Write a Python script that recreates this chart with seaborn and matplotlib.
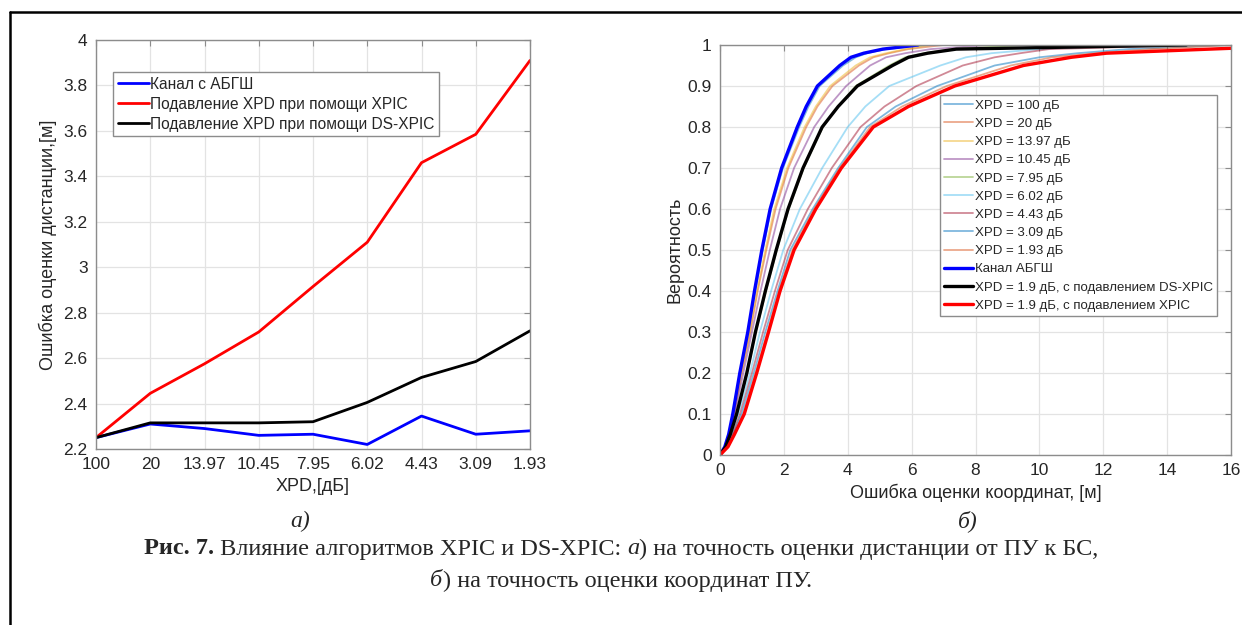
import numpy as np
import pandas as pd
import matplotlib
matplotlib.use("Agg")
import matplotlib.pyplot as plt
import seaborn as sns
from matplotlib.lines import Line2D

# ---- data, panel a ----
xpd_labels = ["100", "20", "13.97", "10.45", "7.95", "6.02", "4.43", "3.09", "1.93"]
awgn_err = [2.25, 2.31, 2.29, 2.26, 2.265, 2.22, 2.345, 2.265, 2.28]
xpic_err = [2.25, 2.445, 2.575, 2.715, 2.915, 3.11, 3.46, 3.585, 3.91]
dsxpic_err = [2.25, 2.315, 2.315, 2.315, 2.32, 2.405, 2.515, 2.585, 2.72]

# ---- data, panel b (CDF: error value at given probability) ----
prob = [0, 0.02, 0.05, 0.1, 0.2, 0.3, 0.4, 0.5, 0.6, 0.7, 0.8, 0.85, 0.9, 0.95, 0.97, 0.98, 0.99, 1.0]
cdf_100 = [0, 0.15, 0.28, 0.41, 0.64, 0.89, 1.1, 1.34, 1.6, 1.97, 2.48, 2.77, 3.12, 3.85, 4.25, 4.6, 5.2, 6.5]
cdf_20 = [0, 0.16, 0.29, 0.44, 0.68, 0.95, 1.18, 1.45, 1.74, 2.14, 2.7, 3.05, 3.52, 4.35, 4.8, 5.3, 5.9, 7.0]
cdf_1397 = [0, 0.16, 0.29, 0.43, 0.67, 0.93, 1.16, 1.42, 1.7, 2.1, 2.65, 3.0, 3.45, 4.25, 4.7, 5.2, 5.8, 6.6]
cdf_1045 = [0, 0.17, 0.31, 0.46, 0.73, 1.0, 1.27, 1.56, 1.88, 2.32, 2.95, 3.4, 3.95, 4.7, 5.2, 5.8, 6.6, 8.5]
cdf_795 = [0, 0.18, 0.32, 0.53, 0.85, 1.12, 1.44, 1.78, 2.15, 2.62, 3.22, 3.7, 4.25, 5.3, 5.8, 6.4, 7.3, 9.5]
cdf_602 = [0, 0.2, 0.36, 0.58, 0.94, 1.25, 1.6, 1.98, 2.5, 3.2, 4.0, 4.55, 5.3, 6.9, 7.7, 8.5, 10.0, 13.0]
cdf_443 = [0, 0.22, 0.39, 0.63, 1.0, 1.35, 1.72, 2.12, 2.75, 3.5, 4.4, 5.15, 6.15, 7.6, 8.6, 9.4, 10.3, 15.0]
cdf_309 = [0, 0.23, 0.41, 0.68, 1.06, 1.42, 1.8, 2.2, 2.9, 3.7, 4.6, 5.5, 6.8, 8.6, 10.0, 11.2, 12.8, 16.0]
cdf_193 = [0, 0.24, 0.44, 0.74, 1.12, 1.49, 1.85, 2.27, 2.95, 3.75, 4.7, 5.7, 7.1, 9.1, 10.4, 11.8, 13.5, 16.0]
cdf_awgn = [0, 0.15, 0.27, 0.40, 0.62, 0.87, 1.08, 1.31, 1.57, 1.93, 2.42, 2.7, 3.05, 3.75, 4.1, 4.5, 5.1, 6.2]
cdf_dsxpic = [0, 0.18, 0.32, 0.52, 0.84, 1.11, 1.42, 1.76, 2.13, 2.6, 3.2, 3.7, 4.3, 5.4, 5.9, 6.5, 7.4, 14.6]
prob_xpic = [0, 0.02, 0.05, 0.1, 0.2, 0.3, 0.4, 0.5, 0.6, 0.7, 0.8, 0.85, 0.9, 0.95, 0.97, 0.98, 0.992]
cdf_xpic = [0, 0.25, 0.45, 0.76, 1.15, 1.52, 1.88, 2.32, 3.0, 3.8, 4.8, 5.9, 7.35, 9.5, 11.0, 12.1, 16.0]

thin_names = ["XPD = 100 дБ", "XPD = 20 дБ", "XPD = 13.97 дБ", "XPD = 10.45 дБ", "XPD = 7.95 дБ",
              "XPD = 6.02 дБ", "XPD = 4.43 дБ", "XPD = 3.09 дБ", "XPD = 1.93 дБ"]
thin_curves = [cdf_100, cdf_20, cdf_1397, cdf_1045, cdf_795, cdf_602, cdf_443, cdf_309, cdf_193]

sns.set_style("white")
plt.rcParams['font.family'] = ['Liberation Sans', 'DejaVu Sans']

matlab_cols = [(0, 0.447, 0.741), (0.85, 0.325, 0.098), (0.929, 0.694, 0.125),
               (0.494, 0.184, 0.556), (0.466, 0.674, 0.188), (0.301, 0.745, 0.933),
               (0.635, 0.078, 0.184)]

fig = plt.figure(figsize=(12.42, 6.25), dpi=100)
ax1 = fig.add_axes([96 / 1242, 1 - 449 / 625, 434 / 1242, 409 / 625])
ax2 = fig.add_axes([720 / 1242, 1 - 455 / 625, 511 / 1242, 410 / 625])

tick_col = "#262626"


def style_axes(ax):
    ax.grid(True, color="#e3e3e3", lw=0.9)
    ax.set_axisbelow(True)
    for s in ax.spines.values():
        s.set_color("#8c8c8c")
        s.set_linewidth(1.0)
    ax.tick_params(direction="in", top=True, right=True, length=4, color="#8c8c8c",
                   labelsize=12.5, labelcolor=tick_col, pad=6)


# panel a
pos = np.arange(len(xpd_labels))
sns.lineplot(x=pos, y=awgn_err, ax=ax1, color=(0, 0, 1), lw=2, label="Канал с АБГШ")
sns.lineplot(x=pos, y=xpic_err, ax=ax1, color=(1, 0, 0), lw=2, label="Подавление XPD при помощи XPIC")
sns.lineplot(x=pos, y=dsxpic_err, ax=ax1, color="black", lw=2, label="Подавление XPD при помощи DS-XPIC")
ax1.set_xlim(0, len(xpd_labels) - 1)
ax1.set_ylim(2.2, 4)
ax1.set_xticks(pos)
ax1.set_xticklabels(xpd_labels)
ax1.set_yticks(np.arange(2.2, 4.01, 0.2))
ax1.set_yticklabels(["%g" % round(v, 1) for v in np.arange(2.2, 4.01, 0.2)])
ax1.set_xlabel("XPD,[дБ]", fontsize=13, color=tick_col, labelpad=4)
ax1.set_ylabel("Ошибка оценки дистанции,[м]", fontsize=13, color=tick_col, labelpad=5)
style_axes(ax1)
leg1 = ax1.legend(loc="upper left", bbox_to_anchor=(0.039, 0.922), fontsize=11.2,
                  frameon=True, fancybox=False, edgecolor="#8c8c8c", framealpha=1,
                  handlelength=2.0, handletextpad=0.1, borderpad=0.3, labelspacing=0.32,
                  borderaxespad=0)
leg1.get_frame().set_linewidth(1.0)

# panel b
for i, (name, xs) in enumerate(zip(thin_names, thin_curves)):
    sns.lineplot(x=xs, y=prob, ax=ax2, color=matlab_cols[i % 7], alpha=0.5, lw=1.3,
                 label=name, estimator=None, sort=False)
sns.lineplot(x=cdf_awgn, y=prob, ax=ax2, color=(0, 0, 1), lw=2.4, label="Канал АБГШ",
             estimator=None, sort=False)
sns.lineplot(x=cdf_dsxpic, y=prob, ax=ax2, color="black", lw=2.4,
             label="XPD = 1.9 дБ, с подавлением DS-XPIC", estimator=None, sort=False)
sns.lineplot(x=cdf_xpic, y=prob_xpic, ax=ax2, color=(1, 0, 0), lw=2.4,
             label="XPD = 1.9 дБ, с подавлением XPIC", estimator=None, sort=False)
ax2.set_xlim(0, 16)
ax2.set_ylim(0, 1)
ax2.set_xticks(np.arange(0, 17, 2))
ax2.set_yticks(np.arange(0, 1.01, 0.1))
ax2.set_yticklabels(["%g" % round(v, 1) for v in np.arange(0, 1.01, 0.1)])
ax2.set_xlabel("Ошибка оценки координат, [м]", fontsize=13, color=tick_col, labelpad=4)
ax2.set_ylabel("Вероятность", fontsize=13, color=tick_col, labelpad=3)
style_axes(ax2)
leg2 = ax2.legend(loc="upper right", bbox_to_anchor=(0.973, 0.878), fontsize=9.5,
                  frameon=True, fancybox=False, edgecolor="#8c8c8c", framealpha=1,
                  handlelength=2.2, handletextpad=0.1, borderpad=0.35, labelspacing=0.45,
                  borderaxespad=0)
leg2.get_frame().set_linewidth(1.0)

# frame of the figure
fig.add_artist(Line2D([10 / 1242, 1], [1 - 12 / 625, 1 - 12 / 625], color="black", lw=1.8,
                      transform=fig.transFigure))
fig.add_artist(Line2D([10 / 1242, 10 / 1242], [0, 1 - 12 / 625], color="black", lw=1.8,
                      transform=fig.transFigure))

# sub-captions and caption
serif = ['Liberation Serif', 'DejaVu Serif']
fig.text(300 / 1242, 1 - 521 / 625, "а)", family=serif, fontsize=17, style="italic",
         ha="center", va="center")
fig.text(968 / 1242, 1 - 521 / 625, "б)", family=serif, fontsize=17, style="italic",
         ha="center", va="center")


def caption_line(parts, y, size=17.5):
    # parts: list of (text, weight, style); drawn one after another, centred as a whole
    renderer = fig.canvas.get_renderer()
    arts = []
    widths = []
    for txt, weight, style in parts:
        t = fig.text(0, y, txt, family=serif, fontsize=size, weight=weight, style=style,
                     ha="left", va="center")
        widths.append(t.get_window_extent(renderer).width)
        arts.append(t)
    total = sum(widths)
    x = (1242 - total) / 2
    for t, w in zip(arts, widths):
        t.set_x(x / 1242)
        x += w


caption_line([("Рис. 7.", "bold", "normal"),
              (" Влияние алгоритмов XPIC и DS-XPIC: ", "normal", "normal"),
              ("а", "normal", "italic"),
              (") на точность оценки дистанции от ПУ к БС,", "normal", "normal")],
             1 - 549 / 625)
caption_line([("б", "normal", "italic"),
              (") на точность оценки координат ПУ.", "normal", "normal")],
             1 - 581 / 625)

fig.savefig("out.png", dpi=100)
